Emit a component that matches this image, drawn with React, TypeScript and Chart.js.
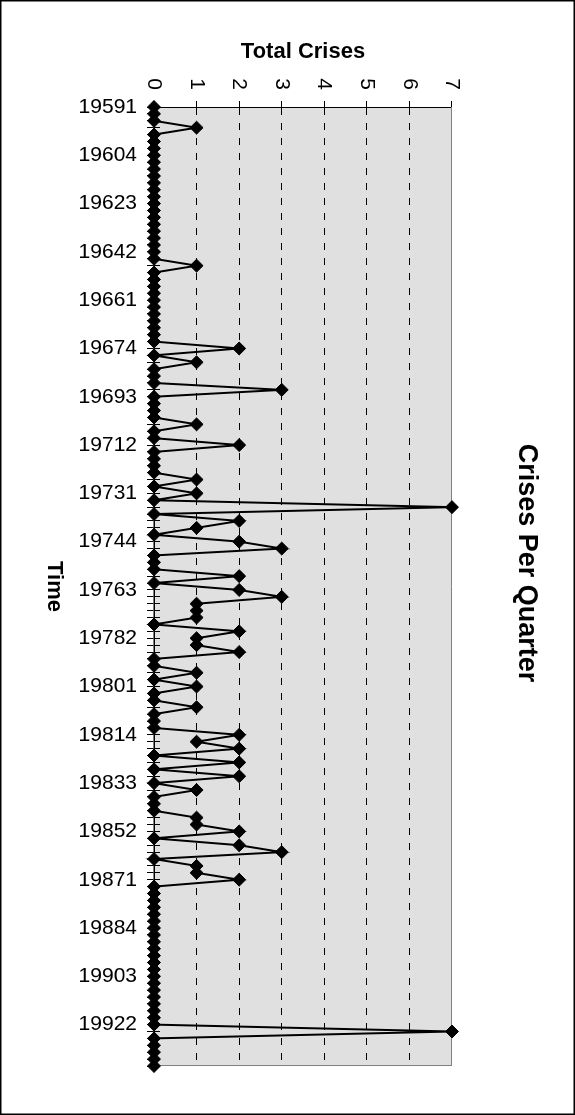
import React, { useEffect, useRef } from 'react';
import { Chart, registerables } from 'chart.js';

Chart.register(...registerables);

// ---------- data ----------
const YEARS = [
  1959, 1960, 1961, 1962, 1963, 1964, 1965, 1966, 1967, 1968, 1969, 1970,
  1971, 1972, 1973, 1974, 1975, 1976, 1977, 1978, 1979, 1980, 1981, 1982,
  1983, 1984, 1985, 1986, 1987, 1988, 1989, 1990, 1991, 1992, 1993,
];
const QUARTERS = [1, 2, 3, 4];
const CATEGORIES = YEARS.flatMap((y) => QUARTERS.map((q) => `${y}${q}`));
const LABEL_EVERY = 7;

// crises per quarter, 1959Q1 .. 1993Q4
const CRISES = [
  0, 0, 0, 1, 0, 0, 0, 0, 0, 0,
  0, 0, 0, 0, 0, 0, 0, 0, 0, 0,
  0, 0, 0, 1, 0, 0, 0, 0, 0, 0,
  0, 0, 0, 0, 0, 2, 0, 1, 0, 0,
  0, 3, 0, 0, 0, 0, 1, 0, 0, 2,
  0, 0, 0, 0, 1, 0, 1, 0, 7, 0,
  2, 1, 0, 2, 3, 0, 0, 0, 2, 0,
  2, 3, 1, 1, 1, 0, 2, 1, 1, 2,
  0, 0, 1, 0, 1, 0, 0, 1, 0, 0,
  0, 2, 1, 2, 0, 2, 0, 2, 0, 1,
  0, 0, 0, 1, 1, 2, 0, 2, 3, 0,
  1, 1, 2, 0, 0, 0, 0, 0, 0, 0,
  0, 0, 0, 0, 0, 0, 0, 0, 0, 0,
  0, 0, 0, 0, 7, 0, 0, 0, 0, 0,
];

const VALUE_MIN = 0;
const VALUE_MAX = 7;
const VALUE_STEP = 1;

const TITLE = 'Crises Per Quarter';
const X_TITLE = 'Time';
const Y_TITLE = 'Total Crises';

const FONT = "'Liberation Sans', Arial, Helvetica, sans-serif";

// ---------- component ----------
export default function App() {
  const canvasRef = useRef<HTMLCanvasElement | null>(null);

  useEffect(() => {
    const canvas = canvasRef.current;
    if (!canvas) return;

    const framePlugin = {
      id: 'frame',
      beforeDraw(chart: any) {
        const { ctx, chartArea: a, width, height } = chart;
        ctx.save();
        ctx.fillStyle = '#ffffff';
        ctx.fillRect(0, 0, width, height);
        ctx.fillStyle = '#E0E0E0';
        ctx.fillRect(a.left, a.top, a.right - a.left, a.bottom - a.top);
        ctx.strokeStyle = '#000000';
        ctx.lineWidth = 1.5;
        ctx.strokeRect(0.75, 0.75, width - 1.5, height - 1.5);
        ctx.restore();
      },
      beforeDatasetsDraw(chart: any) {
        const { ctx, chartArea: a } = chart;
        const xs = chart.scales.x;
        ctx.save();
        ctx.strokeStyle = '#808080';
        ctx.lineWidth = 1;
        ctx.beginPath();
        ctx.moveTo(a.left, a.top + 0.5);
        ctx.lineTo(a.right, a.top + 0.5);
        ctx.moveTo(a.right - 0.5, a.top);
        ctx.lineTo(a.right - 0.5, a.bottom);
        ctx.stroke();
        // inner half of the cross tick marks on the time axis
        ctx.strokeStyle = '#000000';
        ctx.beginPath();
        for (let i = 0; i < CATEGORIES.length; i++) {
          const p = Math.round(xs.getPixelForValue(i) - 0.5) + 0.5;
          ctx.moveTo(p, a.bottom);
          ctx.lineTo(p, a.bottom - 6);
        }
        ctx.stroke();
        ctx.restore();
      },
    };

    const chart = new Chart(canvas, {
      type: 'line',
      data: {
        labels: CATEGORIES,
        datasets: [
          {
            data: CRISES,
            borderColor: '#000000',
            borderWidth: 2,
            backgroundColor: '#000000',
            pointStyle: 'rectRot',
            pointRadius: 6.5,
            pointBorderWidth: 1,
            pointBackgroundColor: '#000000',
            pointBorderColor: '#000000',
            tension: 0,
            fill: false,
            clip: false,
          },
        ],
      },
      options: {
        animation: false,
        responsive: false,
        devicePixelRatio: 1,
        layout: { padding: { left: 11, right: 0, top: 0, bottom: 0 } },
        plugins: {
          legend: { display: false },
          tooltip: { enabled: false },
          title: {
            display: true,
            text: TITLE,
            color: '#000000',
            font: { family: FONT, size: 27, weight: 'bold' },
            padding: { top: 32.8, bottom: 57.8 },
          },
        },
        scales: {
          x: {
            type: 'category',
            position: 'bottom',
            offset: false,
            grid: {
              display: true,
              drawOnChartArea: false,
              drawTicks: true,
              tickLength: 7,
              color: '#000000',
              lineWidth: 1,
            },
            border: { display: true, color: '#000000', width: 1.5 },
            ticks: {
              autoSkip: false,
              maxRotation: 90,
              minRotation: 90,
              padding: 10,
              color: '#000000',
              font: { family: FONT, size: 21 },
              callback: (_v: any, i: number) => (i % LABEL_EVERY === 0 ? CATEGORIES[i] : ''),
            },
            title: {
              display: true,
              text: X_TITLE,
              color: '#000000',
              font: { family: FONT, size: 22, weight: 'bold' },
              padding: { top: 0, bottom: 40.8 },
            },
            afterFit: (s: any) => {
              s.height = 154;
            },
          },
          y: {
            type: 'linear',
            position: 'left',
            min: VALUE_MIN,
            max: VALUE_MAX,
            ticks: {
              stepSize: VALUE_STEP,
              padding: 11,
              color: '#000000',
              font: { family: FONT, size: 21 },
            },
            grid: {
              color: (ctx: any) =>
                ctx.tick && (ctx.tick.value === VALUE_MIN || ctx.tick.value === VALUE_MAX)
                  ? 'rgba(0,0,0,0)'
                  : '#000000',
              tickColor: '#000000',
              tickLength: 6,
              lineWidth: 1,
            },
            border: { display: true, color: '#000000', width: 1, dash: [7, 8] },
            title: {
              display: true,
              text: Y_TITLE,
              color: '#000000',
              font: { family: FONT, size: 22, weight: 'bold' },
              padding: { top: 27.8, bottom: 0 },
            },
            afterFit: (s: any) => {
              s.width = 96;
            },
          },
          y2: {
            type: 'linear',
            position: 'right',
            display: true,
            grid: { display: false },
            ticks: { display: false },
            border: { display: false },
            afterFit: (s: any) => {
              s.width = 49;
            },
          },
        },
      } as any,
      plugins: [framePlugin],
    });

    return () => {
      chart.destroy();
    };
  }, []);

  return (
    <div
      style={{
        position: 'absolute',
        left: 0,
        top: 0,
        width: 575,
        height: 1115,
        overflow: 'hidden',
        background: '#ffffff',
      }}
    >
      <div
        style={{
          position: 'absolute',
          left: 0,
          top: 0,
          width: 1115,
          height: 575,
          transformOrigin: '0 0',
          transform: 'translate(575px, 0px) rotate(90deg)',
        }}
      >
        <canvas
          ref={canvasRef}
          width={1115}
          height={575}
          style={{ width: 1115, height: 575, display: 'block' }}
        />
      </div>
    </div>
  );
}
